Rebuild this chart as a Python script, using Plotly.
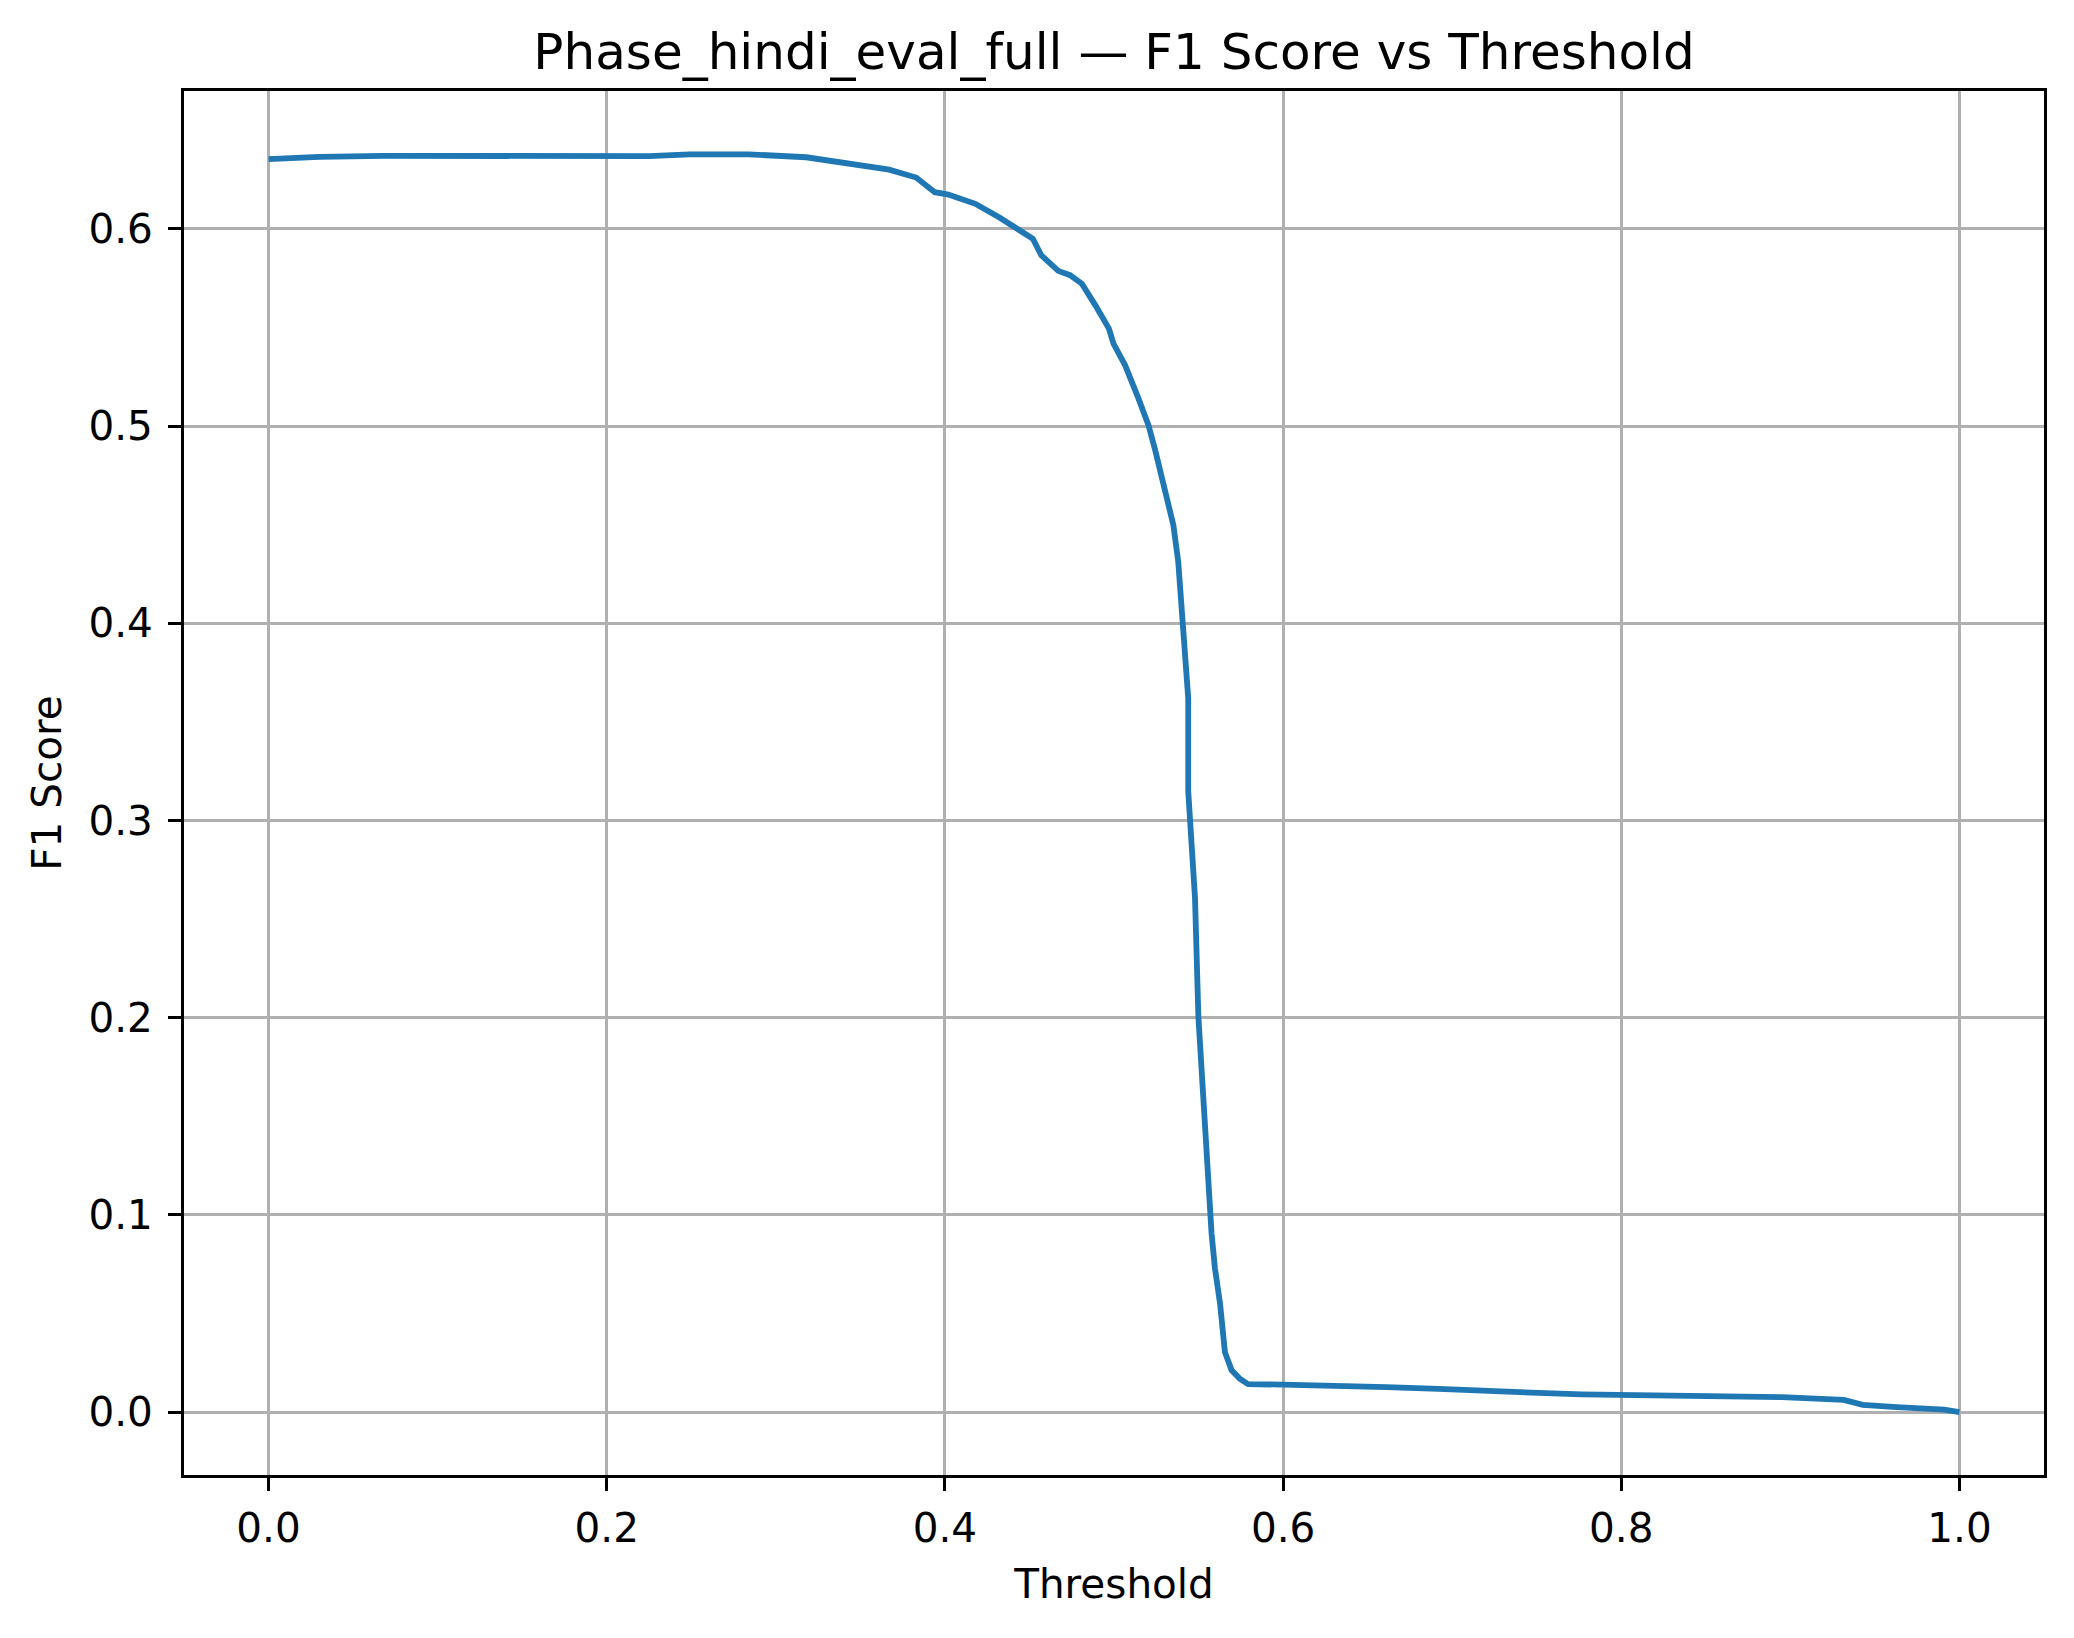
import plotly.graph_objects as go

# Values
threshold = [0.0, 0.03, 0.068, 0.107, 0.166, 0.206, 0.225, 0.249, 0.284, 0.318,
             0.343, 0.367, 0.383, 0.394, 0.402, 0.418, 0.432, 0.452, 0.457, 0.467,
             0.474, 0.481, 0.489, 0.497, 0.4997, 0.5066, 0.5145, 0.5204, 0.5243, 0.5302,
             0.5351, 0.538, 0.540, 0.542, 0.5439, 0.5439, 0.5459, 0.5469, 0.5479, 0.5499,
             0.5519, 0.5538, 0.5558, 0.5577, 0.5597, 0.5627, 0.5656, 0.5695, 0.5744, 0.5793,
             0.600, 0.6325, 0.661, 0.692, 0.7257, 0.740, 0.7765, 0.816, 0.8443, 0.895,
             0.9316, 0.9428, 0.9628, 0.9909, 1.0]
f1_score = [0.6354, 0.6365, 0.6370, 0.6368, 0.6371, 0.6368, 0.6369, 0.6378, 0.6378, 0.6363,
            0.633, 0.630, 0.626, 0.6186, 0.6174, 0.6127, 0.6059, 0.595, 0.5866, 0.5787,
            0.5765, 0.5722, 0.5612, 0.5494, 0.5418, 0.5308, 0.5139, 0.5004, 0.4880, 0.4667,
            0.4498, 0.4312, 0.4093, 0.389, 0.362, 0.3148, 0.2877, 0.2709, 0.2608, 0.2005,
            0.1721, 0.1367, 0.119, 0.0906, 0.0729, 0.0552, 0.0304, 0.0213, 0.0169, 0.0142,
            0.0139, 0.0135, 0.0127, 0.0118, 0.0110, 0.0101, 0.0090, 0.0085, 0.0080, 0.0076,
            0.0062, 0.0037, 0.0025, 0.0012, 0.0]

x_ticks = [0.0, 0.2, 0.4, 0.6, 0.8, 1.0]
y_ticks = [0.0, 0.1, 0.2, 0.3, 0.4, 0.5, 0.6]

font = "DejaVu Sans"

data = [go.Scatter(x=threshold, y=f1_score, mode='lines',
                   line=dict(color='#1f77b4', width=5.8), name='F1 Score')]

axis_style = dict(showgrid=True, gridcolor='#b0b0b0', gridwidth=3, zeroline=False,
                  showline=True, linecolor='black', linewidth=3, mirror=True,
                  ticks='outside', ticklen=13, tickwidth=3, tickcolor='black',
                  tickformat='.1f', tickfont=dict(family=font, size=40.5, color='black'))

layout = go.Layout(
    width=2074, height=1638,
    # the page body adds an 8px offset, so margins are shifted to compensate
    margin=dict(l=176, r=38, t=83, b=171),
    paper_bgcolor='white', plot_bgcolor='white',
    showlegend=False,
    title=dict(text='Phase_hindi_eval_full — F1 Score vs Threshold',
               font=dict(family=font, size=50, color='black'),
               x=0.5, xanchor='center', xref='paper',
               y=1 - 43 / 1638, yanchor='middle', yref='container'),
    xaxis=dict(axis_style, range=[-0.05, 1.05], tickvals=x_ticks, ticklabelstandoff=2,
               title=dict(text='Threshold', font=dict(family=font, size=40.5, color='black'),
                          standoff=20)),
    yaxis=dict(axis_style, range=[-0.0319, 0.6699], tickvals=y_ticks, ticklabelstandoff=7,
               title=dict(text='F1 Score', font=dict(family=font, size=40.5, color='black'),
                          standoff=15)),
)

fig = go.Figure(data=data, layout=layout)
fig.write_html("out.html")
